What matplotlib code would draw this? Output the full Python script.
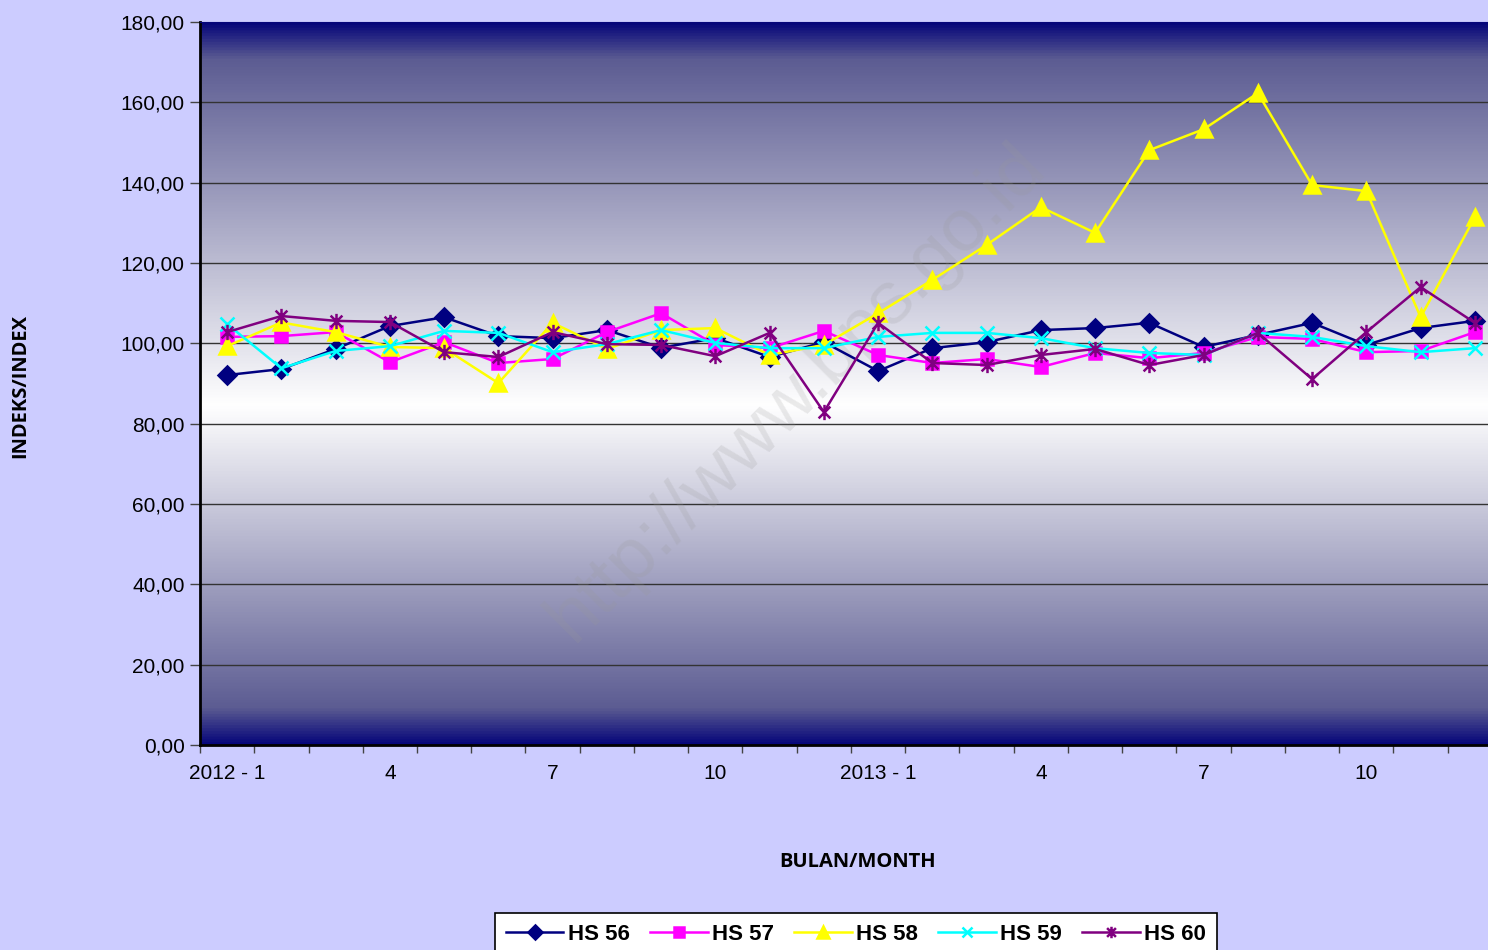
import numpy as np
import matplotlib
matplotlib.use('Agg')
import matplotlib.pyplot as plt
from matplotlib.colors import LinearSegmentedColormap
from matplotlib.path import Path
from matplotlib.ticker import FuncFormatter, FixedLocator

# Monthly index values, Jan 2012 - Dec 2013
months = list(range(1, 25))
tick_pos = [1, 4, 7, 10, 13, 16, 19, 22]
tick_labels = ['2012 - 1', '4', '7', '10', '2013 - 1', '4', '7', '10']

hs56 = [92.1, 93.6, 98.6, 104.3, 106.5, 101.8, 101.3, 103.3, 98.9, 101.3, 96.6, 100.3,
        93.1, 98.8, 100.3, 103.3, 103.8, 105.1, 99.1, 102.1, 105.1, 99.6, 103.8, 105.6]
hs57 = [101.6, 101.8, 102.8, 95.3, 100.3, 95.1, 96.1, 102.8, 107.5, 99.6, 98.8, 103.1,
        97.1, 95.1, 96.1, 94.1, 97.6, 96.3, 97.6, 101.6, 101.1, 97.8, 98.1, 102.8]
hs58 = [99.3, 105.2, 102.8, 99.1, 98.8, 90.1, 105.1, 98.6, 103.3, 103.8, 97.1, 99.6,
        107.5, 115.8, 124.5, 133.9, 127.5, 148.1, 153.3, 162.3, 139.4, 137.9, 106.5, 131.4]
hs59 = [104.8, 93.8, 98.1, 99.3, 103.1, 102.6, 97.8, 99.8, 103.3, 100.1, 98.8, 98.8,
        101.6, 102.6, 102.6, 101.3, 98.8, 97.6, 97.1, 102.6, 101.6, 99.3, 97.8, 98.8]
hs60 = [102.8, 106.8, 105.6, 105.3, 97.8, 96.6, 102.8, 99.8, 99.6, 96.8, 102.6, 82.9,
        105.1, 95.1, 94.6, 97.1, 98.6, 94.6, 97.1, 102.6, 91.1, 102.8, 114.0, 105.1]

# excel-style star marker: an x with a vertical bar
star = Path([(-1, -1), (1, 1), (-1, 1), (1, -1), (0, -1.3), (0, 1.3)],
            [Path.MOVETO, Path.LINETO, Path.MOVETO, Path.LINETO, Path.MOVETO, Path.LINETO])

series = [
    ('HS 56', hs56, '#000080', 'D', 9),
    ('HS 57', hs57, '#FF00FF', 's', 9),
    ('HS 58', hs58, '#FFFF00', '^', 11),
    ('HS 59', hs59, '#00FFFF', 'x', 10),
    ('HS 60', hs60, '#800080', star, 11),
]

fig = plt.figure(figsize=(14.88, 9.5), dpi=100, facecolor='#CCCCFF')
ax = fig.add_axes([200 / 1488, 1 - 745 / 950, 1302 / 1488, 723 / 950])
ax.set_xlim(0.5, 24.5)
ax.set_ylim(0, 180)

# gradient background: navy at edges, white around the middle
cmap = LinearSegmentedColormap.from_list('bg', [
    (0.0, '#06067a'), (0.05, '#5c5c92'), (0.47, '#ffffff'),
    (0.95, '#5c5c92'), (1.0, '#06067a')])
grad = np.linspace(0, 1, 512).reshape(-1, 1)
ax.imshow(grad, cmap=cmap, aspect='auto', extent=[0, 1, 0, 1],
          transform=ax.transAxes, zorder=0, origin='lower')

for y in range(20, 180, 20):
    ax.axhline(y, color='#333333', lw=1.0, zorder=1)

for name, vals, col, mk, ms in series:
    ax.plot(months, vals, color=col, lw=1.8, marker=mk, markersize=ms,
            markerfacecolor=col, markeredgecolor=col, markeredgewidth=1.8,
            label=name, zorder=3)

# watermark
ax.text(0.458, 0.488, 'http://www.bps.go.id', transform=ax.transAxes, rotation=45,
        fontsize=54, color='#999999', alpha=0.2, ha='center', va='center',
        family='Liberation Sans', zorder=2)

ax.yaxis.set_major_locator(FixedLocator(np.arange(0, 181, 20)))
ax.yaxis.set_major_formatter(FuncFormatter(lambda v, p: f'{v:.2f}'.replace('.', ',')))
ax.set_xticks(np.arange(0.5, 25, 1))
ax.set_xticklabels([])
ax.set_xticks(tick_pos, minor=True)
ax.set_xticklabels(tick_labels, minor=True)
ax.tick_params(axis='x', which='major', length=6, width=1, color='#444444', direction='out')
ax.tick_params(axis='x', which='minor', length=0, pad=14, labelsize=15)
ax.tick_params(axis='y', length=7, width=1, color='#444444', labelsize=15, pad=4)
for lab in ax.get_xticklabels(minor=True) + ax.get_yticklabels():
    lab.set_family('Liberation Sans')

for s in ['left', 'bottom']:
    ax.spines[s].set_linewidth(2)
    ax.spines[s].set_color('black')
ax.spines['top'].set_color('#06067a')
ax.spines['right'].set_visible(False)

fig.text(20 / 1488, 1 - 386 / 950, 'INDEKS/INDEX', rotation=90, ha='center', va='center',
         fontsize=14.5, fontweight='bold', family='Open Sans')
fig.text(858 / 1488, 1 - 862 / 950, 'BULAN/MONTH', ha='center', va='center',
         fontsize=14.5, fontweight='bold', family='Open Sans')

leg = fig.legend(loc='upper center', bbox_to_anchor=(856 / 1488, 1 - 902 / 950), ncol=5,
                 frameon=True, fancybox=False, edgecolor='black', facecolor='white',
                 framealpha=1, handlelength=2.6, handletextpad=0.2, columnspacing=0.9,
                 borderpad=0.5, markerscale=0.75,
                 prop={'family': 'Liberation Sans', 'weight': 'bold', 'size': 16})
leg.get_frame().set_linewidth(1.2)

fig.savefig('out.png', dpi=100, facecolor=fig.get_facecolor())
